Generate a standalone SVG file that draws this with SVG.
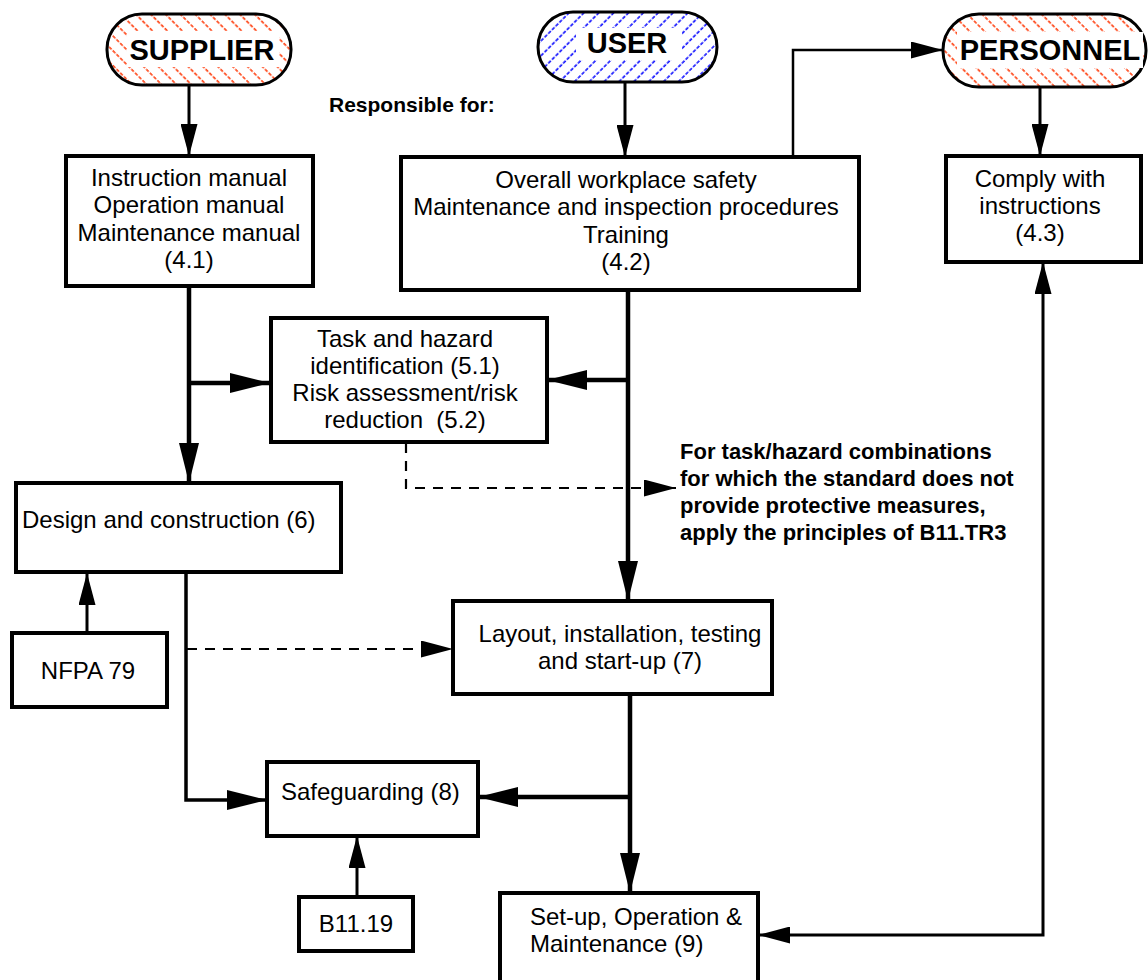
<svg xmlns="http://www.w3.org/2000/svg" width="1148" height="980" viewBox="0 0 1148 980">
<style>
.bx{fill:#fff;stroke:#000;stroke-width:4}
.pill{stroke:#000;stroke-width:3}
.t{font-family:"Liberation Sans",Arial,sans-serif;font-size:24px;fill:#000}
.c{text-anchor:middle}
.b{font-family:"Liberation Sans",Arial,sans-serif;font-weight:bold;fill:#000}
.thin{fill:none;stroke:#000;stroke-width:3}
.thick{fill:none;stroke:#000;stroke-width:4.5}
.dash{fill:none;stroke:#000;stroke-width:2.2;stroke-dasharray:10 8}
</style>
<defs>
<pattern id="hR" patternUnits="userSpaceOnUse" width="10.5" height="10.5" patternTransform="rotate(-45)">
<rect width="10.5" height="10.5" fill="#fff"/>
<line x1="2" y1="0" x2="2" y2="10.5" stroke="#ff4a1c" stroke-width="1.7" stroke-dasharray="3.5 1.75"/>
</pattern>
<pattern id="hB" patternUnits="userSpaceOnUse" width="10.5" height="10.5" patternTransform="rotate(45)">
<rect width="10.5" height="10.5" fill="#fff"/>
<line x1="2" y1="0" x2="2" y2="10.5" stroke="#1a1aff" stroke-width="1.7" stroke-dasharray="3.5 1.75"/>
</pattern>
<marker id="big" markerUnits="userSpaceOnUse" viewBox="0 0 40 20" markerWidth="40" markerHeight="20" refX="40" refY="10" orient="auto">
<path d="M0,0 L40,10 L0,20 z" fill="#000"/>
</marker>
<marker id="sm" markerUnits="userSpaceOnUse" viewBox="0 0 32 17" markerWidth="32" markerHeight="17" refX="32" refY="8.5" orient="auto-start-reverse">
<path d="M0,0 L32,8.5 L0,17 z" fill="#000"/>
</marker>
</defs>

<g id="connectors">
<path class="thin" d="M189,86 V156" marker-end="url(#sm)"/>
<path class="thin" d="M625,82 V157" marker-end="url(#sm)"/>
<path class="thin" style="stroke-width:2.5" d="M793,157 V50 H943" marker-end="url(#sm)"/>
<path class="thin" d="M1040,88 V156" marker-end="url(#sm)"/>
<path class="thick" d="M189,286 V483" marker-end="url(#big)"/>
<path class="thick" d="M189,383 H270" marker-end="url(#big)"/>
<path class="thick" d="M628,290 V601" marker-end="url(#big)"/>
<path class="thick" d="M628,380 H547" marker-end="url(#big)"/>
<path class="dash" d="M406,443 V488 H676" marker-end="url(#sm)"/>
<path class="thin" d="M87,633 V573" marker-end="url(#sm)"/>
<path class="thick" style="stroke-width:3.5" d="M186,572 V800 H267" marker-end="url(#big)"/>
<path class="dash" d="M187,649 H453" marker-end="url(#sm)"/>
<path class="thick" d="M630,694 V893" marker-end="url(#big)"/>
<path class="thick" d="M630,797 H478" marker-end="url(#big)"/>
<path class="thin" d="M357,897 V836" marker-end="url(#sm)"/>
<path class="thin" d="M1043,262 V935 H758" marker-start="url(#sm)" marker-end="url(#sm)"/>
</g>

<g id="supplier">
<rect class="pill" x="107" y="14" width="184" height="71" rx="35" fill="url(#hR)"/>
<rect x="127" y="31" width="152" height="36" fill="#fff"/>
<text class="b c" x="202" y="60" font-size="29">SUPPLIER</text>
</g>
<g id="user">
<rect class="pill" x="538" y="12" width="179" height="70" rx="35" fill="url(#hB)"/>
<rect x="576" y="28" width="106" height="32" fill="#fff"/>
<text class="b c" x="627" y="53" font-size="29">USER</text>
</g>
<g id="personnel">
<rect class="pill" x="943" y="14" width="203" height="73" rx="36" fill="url(#hR)"/>
<rect x="957" y="32" width="186" height="36" fill="#fff"/>
<text class="b c" x="1050" y="60" font-size="29">PERSONNEL</text>
</g>

<g id="responsible">
<text class="b" x="329" y="112" font-size="21">Responsible for:</text>
</g>

<g id="manuals">
<rect class="bx" x="66" y="156" width="247" height="130"/>
<text class="t c" x="189" y="186">Instruction manual</text>
<text class="t c" x="189" y="213">Operation manual</text>
<text class="t c" x="189" y="241">Maintenance manual</text>
<text class="t c" x="189" y="268">(4.1)</text>
</g>
<g id="overall">
<rect class="bx" x="401" y="157" width="458" height="133"/>
<text class="t c" x="626" y="188">Overall workplace safety</text>
<text class="t c" x="626" y="215">Maintenance and inspection procedures</text>
<text class="t c" x="626" y="243">Training</text>
<text class="t c" x="626" y="270">(4.2)</text>
</g>
<g id="comply">
<rect class="bx" x="946" y="156" width="195" height="106"/>
<text class="t c" x="1040" y="187">Comply with</text>
<text class="t c" x="1040" y="214">instructions</text>
<text class="t c" x="1040" y="241">(4.3)</text>
</g>
<g id="task">
<rect class="bx" x="271" y="318" width="276" height="124"/>
<text class="t c" x="405" y="347">Task and hazard</text>
<text class="t c" x="405" y="374">identification (5.1)</text>
<text class="t c" x="405" y="401">Risk assessment/risk</text>
<text class="t c" x="405" y="428">reduction &#160;(5.2)</text>
</g>
<g id="note">
<text class="b" x="680" y="459" font-size="22">For task/hazard combinations</text>
<text class="b" x="680" y="486" font-size="22">for which the standard does not</text>
<text class="b" x="680" y="513" font-size="22">provide protective measures,</text>
<text class="b" x="680" y="540" font-size="22">apply the principles of B11.TR3</text>
</g>
<g id="design">
<rect class="bx" x="16" y="483" width="325" height="89"/>
<text class="t" x="22" y="528">Design and construction (6)</text>
</g>
<g id="nfpa">
<rect class="bx" x="12" y="633" width="155" height="74"/>
<text class="t c" x="88" y="679">NFPA 79</text>
</g>
<g id="layout">
<rect class="bx" x="453" y="601" width="319" height="93"/>
<text class="t c" x="620" y="642">Layout, installation, testing</text>
<text class="t c" x="620" y="669">and start-up (7)</text>
</g>
<g id="safeguarding">
<rect class="bx" x="267" y="762" width="211" height="74"/>
<text class="t" x="281" y="800">Safeguarding (8)</text>
</g>
<g id="b1119">
<rect class="bx" x="299" y="897" width="114" height="54"/>
<text class="t c" x="356" y="932">B11.19</text>
</g>
<g id="setup">
<rect class="bx" x="500" y="893" width="258" height="100"/>
<text class="t" x="530" y="925">Set-up, Operation &amp;</text>
<text class="t" x="530" y="952">Maintenance (9)</text>
</g>
</svg>
